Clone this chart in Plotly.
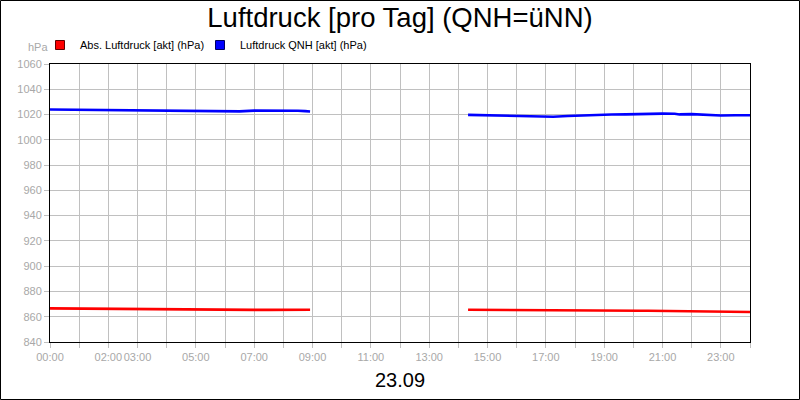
import plotly.graph_objects as go

# Messzeiten (Uhrzeit) und Werte, Lücke zwischen 08:55 und 14:20
zeiten = ['00:00', '00:30', '01:00', '01:30', '02:00', '02:30', '03:00', '03:30',
          '04:00', '04:30', '05:00', '05:30', '06:00', '06:15', '06:30', '07:00',
          '07:30', '08:00', '08:30', '08:45', '08:55', None,
          '14:20', '14:45', '15:15', '15:45', '16:15', '16:45', '17:15', '17:45',
          '18:15', '18:45', '19:15', '19:45', '20:15', '20:30', '21:00', '21:25',
          '21:35', '22:00', '22:30', '23:00', '23:30', '24:00']

qnh = [1024.0, 1023.9, 1023.9, 1023.8, 1023.7, 1023.6, 1023.4, 1023.2,
       1023.0, 1022.8, 1022.6, 1022.5, 1022.4, 1022.9, 1022.5, 1023.1,
       1023.2, 1023.1, 1023.0, 1022.7, 1022.4, None,
       1019.7, 1019.5, 1019.3, 1019.1, 1018.8, 1018.4, 1018.3, 1018.8,
       1019.3, 1019.7, 1020.0, 1020.1, 1020.4, 1020.8, 1020.7, 1020.6,
       1020.1, 1020.3, 1019.8, 1019.3, 1019.4, 1019.5]

abs_druck = [866.6, 866.5, 866.4, 866.4, 866.3, 866.2, 866.0, 865.8,
             865.6, 865.4, 865.2, 865.2, 865.2, 865.3, 865.3, 865.4,
             865.4, 865.5, 865.5, 865.5, 865.5, None,
             865.5, 865.4, 865.3, 865.2, 865.1, 865.0, 864.9, 864.9,
             864.8, 864.8, 864.8, 864.8, 864.7, 864.7, 864.6, 864.5,
             864.4, 864.3, 864.1, 863.9, 863.8, 863.7]

tick_stunden = [0, 2, 3, 5, 7, 9, 11, 13, 15, 17, 19, 21, 23]
tick_texte = ['%02d:00' % h for h in tick_stunden]


def in_stunden(t):
    if t is None:
        return None
    h, m = t.split(':')
    return int(h) + int(m) / 60


x = [in_stunden(t) for t in zeiten]

fig = go.Figure()
fig.add_trace(go.Scatter(x=x, y=abs_druck, mode='lines', showlegend=False,
                         line=dict(color='#ff0000', width=2.6), connectgaps=False))
fig.add_trace(go.Scatter(x=x, y=qnh, mode='lines', showlegend=False,
                         line=dict(color='#0000ff', width=2.6), connectgaps=False))
# Legendeneinträge als Quadrate
fig.add_trace(go.Scatter(x=[None], y=[None], mode='markers', name='Abs. Luftdruck [akt] (hPa)',
                         marker=dict(symbol='square', size=9, color='#ff0000',
                                     line=dict(color='#600000', width=1))))
fig.add_trace(go.Scatter(x=[None], y=[None], mode='markers', name='Luftdruck QNH [akt] (hPa)',
                         marker=dict(symbol='square', size=9, color='#0000ff',
                                     line=dict(color='#000060', width=1))))
# leerer Platzhalter, damit der zweite Eintrag nicht abgeschnitten wird
fig.add_trace(go.Scatter(x=[None], y=[None], mode='markers', name=' ',
                         marker=dict(size=1, color='rgba(0,0,0,0)',
                                     line=dict(width=0))))

grau = '#a8a8a8'
fig.update_layout(
    width=800, height=400,
    margin=dict(l=50, r=50, t=64, b=58, autoexpand=False),
    paper_bgcolor='white', plot_bgcolor='white',
    font=dict(family='Liberation Sans, Arial', size=11, color='black'),
    title=dict(text='Luftdruck [pro Tag] (QNH=üNN)', x=0.5, xanchor='center',
               y=1 - 17 / 400, yanchor='middle', font=dict(size=27.5, color='black')),
    legend=dict(orientation='h', x=-10 / 700, xanchor='left', y=1.0 + 19 / 278, yanchor='middle',
                font=dict(size=11, color='black'), entrywidth=115, bgcolor='rgba(0,0,0,0)',
                tracegroupgap=0),
)
fig.update_xaxes(range=[0, 24], tickvals=tick_stunden, ticktext=tick_texte, tickangle=0,
                 automargin=False,
                 showgrid=True, gridcolor='#c0c0c0', gridwidth=1,
                 ticks='outside', ticklen=5, tickcolor='#c0c0c0',
                 tickfont=dict(color=grau, size=11),
                 minor=dict(dtick=1, tick0=0, showgrid=True, gridcolor='#c0c0c0',
                            ticks='outside', ticklen=5, tickcolor='#c0c0c0'),
                 showline=True, linecolor='black', linewidth=1, mirror=True, zeroline=False)
fig.update_yaxes(range=[840, 1060], dtick=20, tick0=840, automargin=False,
                 showgrid=True, gridcolor='#c0c0c0', gridwidth=1,
                 ticks='outside', ticklen=5, tickcolor='#c0c0c0',
                 tickfont=dict(color=grau, size=11),
                 showline=True, linecolor='black', linewidth=1, mirror=True, zeroline=False)

fig.add_annotation(text='hPa', xref='paper', yref='paper', x=0, y=1 + 17 / 278,
                   xanchor='right', yanchor='middle', showarrow=False,
                   font=dict(size=11, color=grau))
fig.add_annotation(text='23.09', xref='paper', yref='paper', x=0.5, y=-38 / 278,
                   xanchor='center', yanchor='middle', showarrow=False,
                   font=dict(size=20, color='black'))
# Rahmen um die gesamte Grafik
fig.add_shape(type='rect', xref='paper', yref='paper',
              x0=-49.5 / 700, x1=1 + 49.5 / 700, y0=-57.5 / 278, y1=1 + 63.5 / 278,
              line=dict(color='black', width=1), fillcolor='rgba(0,0,0,0)')

fig.write_html('out.html', config={'displayModeBar': False},
               post_script="document.body.style.margin='0';")
